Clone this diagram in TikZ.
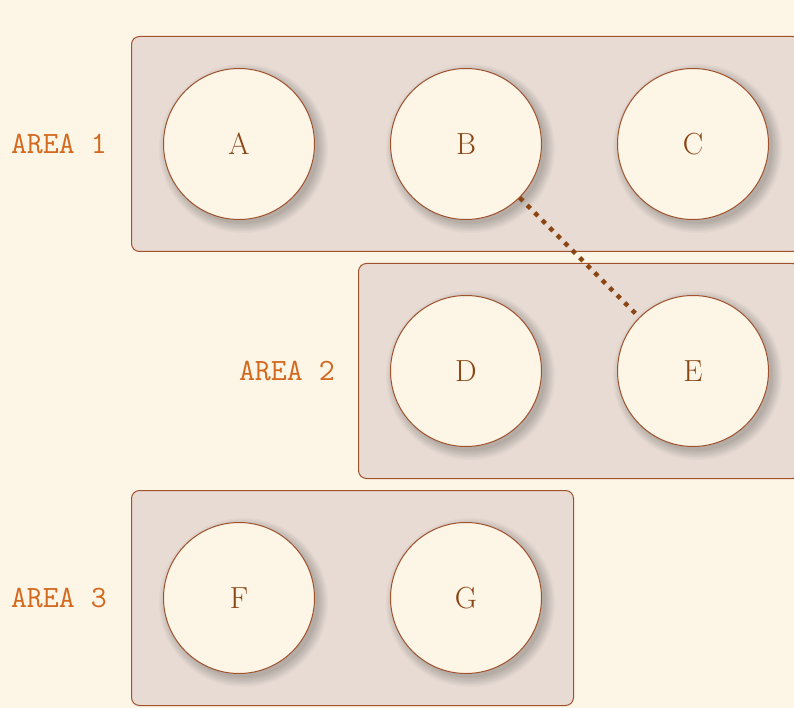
\documentclass[tikz,border=0pt]{standalone}
\usetikzlibrary{shadows,fit,backgrounds}
\definecolor{bgcol}{RGB}{253,245,230}
\definecolor{boxfill}{RGB}{231,219,211}
\definecolor{edgecol}{RGB}{160,82,45}
\definecolor{textcol}{RGB}{139,69,19}
\definecolor{labelcol}{RGB}{210,105,30}
\tikzset{
  areabox/.style={draw=edgecol, line width=1pt, fill=boxfill, rounded corners=8pt, inner sep=31.5pt},
  softshadow/.style={drop shadow={shadow scale=#1, shadow xshift=4pt, shadow yshift=-4pt, opacity=0.025, fill=black}},
  place/.style={circle, draw=edgecol, line width=1pt, fill=bgcol, minimum size=151pt, inner sep=0pt,
    text=textcol, font=\fontsize{30.5}{36}\selectfont,
    softshadow=1.12, softshadow=1.10, softshadow=1.085, softshadow=1.07, softshadow=1.055,
    softshadow=1.04, softshadow=1.025, softshadow=1.01, softshadow=1.0},
  arealabel/.style={anchor=east, text=labelcol, font=\ttfamily\fontsize{31}{36}\selectfont, inner sep=0pt},
  link/.style={draw=textcol, line width=4.5pt, dash pattern=on 4.5pt off 6.1pt}
}
\begin{document}
\begin{tikzpicture}[x=1pt, y=-1pt]
  \useasboundingbox (0,0) rectangle (794,708);
  \node[place] (A) at (239,144) {A};
  \node[place] (B) at (466,144) {B};
  \node[place] (C) at (693,144) {C};
  \node[place] (D) at (466,371) {D};
  \node[place] (E) at (693,371) {E};
  \node[place] (F) at (239,598) {F};
  \node[place] (G) at (466,598) {G};
  \begin{pgfonlayer}{background}
    \fill[bgcol] (0,0) rectangle (794,708);
    \node[areabox, fit=(A)(C)] (area1) {};
    \node[areabox, fit=(D)(E)] (area2) {};
    \node[areabox, fit=(F)(G)] (area3) {};
  \end{pgfonlayer}
  \node[arealabel] (lab1) at ([xshift=-24pt]area1.west) {AREA 1};
  \node[arealabel] (lab2) at ([xshift=-23pt]area2.west) {AREA 2};
  \node[arealabel] (lab3) at ([xshift=-24pt]area3.west) {AREA 3};
  \draw[link] (B.-45) -- (E.135);
\end{tikzpicture}
\end{document}
